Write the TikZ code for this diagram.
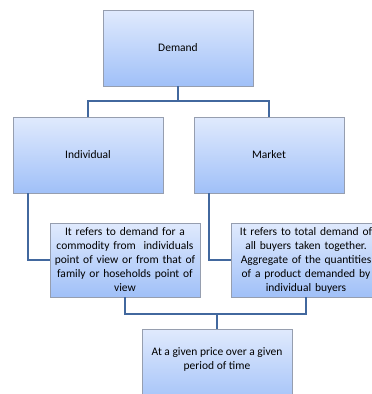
\documentclass[tikz,border=0pt]{standalone}
\usepackage{fontspec}
\setmainfont{Carlito}
\usetikzlibrary{shadows}
\definecolor{boxtop}{RGB}{224,234,253}
\definecolor{boxbot}{RGB}{160,192,248}
\definecolor{boxedge}{RGB}{150,158,175}
\definecolor{linkc}{RGB}{66,104,158}
\tikzset{
  box/.style={draw=boxedge, line width=0.8pt, top color=boxtop, bottom color=boxbot,
    drop shadow={shadow xshift=1pt, shadow yshift=-1pt, opacity=0.35},
    inner sep=0pt, font=\fontsize{11.5}{14}\selectfont, align=center},
  bigbox/.style={box, minimum width=150pt, minimum height=76pt},
  txtbox/.style={box, minimum width=150pt, minimum height=74pt, text width=150pt},
  link/.style={draw=linkc, line width=2pt},
  lbl/.style={font=\fontsize{11.5}{14}\selectfont, align=center, inner sep=0pt}
}
\begin{document}
\begin{tikzpicture}[x=1pt,y=-1pt]
\useasboundingbox (0,0) rectangle (372,394);
\clip (0,0) rectangle (372,394);
% boxes
\node[bigbox] (demand) at (178,48) {Demand};
\node[bigbox] (indiv) at (88,155) {Individual};
\node[bigbox] (market) at (269,155) {Market};
\node[txtbox] (itext) at (125,260) {It refers to demand for a\\commodity from \ individuals\\point of view or from that of\\family or hoseholds point of\\view};
\node[txtbox] (mtext) at (306,260) {It refers to total demand of\\all buyers taken together.\\Aggregate of the quantities\\of a product demanded by\\individual buyers};
\node[bigbox, minimum height=78pt] (period) at (217,368) {};
\node[lbl] (ptext) at (217,359) {At a given price over a given\\period of time};
% connectors
\coordinate (j1) at (178,101);
\coordinate (j2) at (217,314);
\draw[link] (demand.south) -- (j1);
\draw[link] (indiv.north) |- (j1) -| (market.north);
\draw[link] ([xshift=-60pt]indiv.south) |- (itext.west);
\draw[link] ([xshift=-60pt]market.south) |- (mtext.west);
\draw[link] (itext.south) |- (j2) -| (mtext.south);
\draw[link] (j2) -- (period.north);
\end{tikzpicture}
\end{document}
